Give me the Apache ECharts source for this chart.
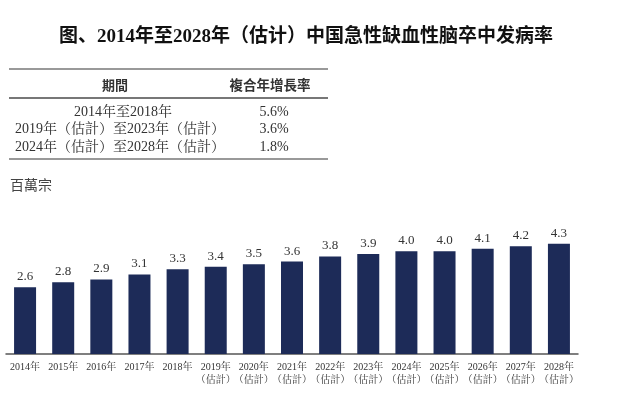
<!DOCTYPE html>
<html><head><meta charset="utf-8">
<script src="https://cdn.jsdelivr.net/npm/echarts@6/dist/echarts.min.js"></script>
<style>html,body{margin:0;padding:0;background:#fff}#c{width:628px;height:395px}</style>
</head><body><div id="c"></div>
<script>
const years = ['2014','2015','2016','2017','2018','2019','2020','2021','2022','2023','2024','2025','2026','2027','2028'];
const estimated = [false,false,false,false,false,true,true,true,true,true,true,true,true,true,true];
const values = [2.6,2.8,2.9,3.1,3.3,3.4,3.5,3.6,3.8,3.9,4.0,4.0,4.1,4.2,4.3];
const tableHeader = ['期間','複合年增長率'];
const periods = ['2014年至2018年','2019年（估計）至2023年（估計）','2024年（估計）至2028年（估計）'];
const cagr = ['5.6%','3.6%','1.8%'];
const titleText = '图、2014年至2028年（估计）中国急性缺血性脑卒中发病率';
const unitText = '百萬宗';

const serif = "'Liberation Serif','Noto Serif CJK SC','Noto Sans CJK TC',serif";
const categories = years.map((y,i)=> y + '年' + (estimated[i] ? '\n（估計）' : ''));

const graphics = [];
graphics.push({type:'line', shape:{x1:9,y1:69,x2:328,y2:69}, style:{stroke:'#777',lineWidth:1.5}});
graphics.push({type:'line', shape:{x1:9,y1:98,x2:328,y2:98}, style:{stroke:'#777',lineWidth:2}});
graphics.push({type:'line', shape:{x1:9,y1:159,x2:328,y2:159}, style:{stroke:'#777',lineWidth:1.5}});
graphics.push({type:'text', x:115, y:85, style:{text:tableHeader[0], font:"bold 13px 'Noto Sans CJK TC'", fill:'#333', textAlign:'center', textVerticalAlign:'middle'}});
graphics.push({type:'text', x:270, y:85, style:{text:tableHeader[1], font:"bold 13.5px 'Noto Sans CJK TC'", fill:'#333', textAlign:'center', textVerticalAlign:'middle'}});
const rowY = [112,129,147];
periods.forEach((p,i)=>{
  graphics.push({type:'text', x:i===0?123:120, y:rowY[i], style:{text:p, font:"14px "+serif, fill:'#333', textAlign:'center', textVerticalAlign:'middle'}});
  graphics.push({type:'text', x:274, y:rowY[i], style:{text:cagr[i], font:"14px "+serif, fill:'#333', textAlign:'center', textVerticalAlign:'middle'}});
});
graphics.push({type:'text', x:10, y:185, style:{text:unitText, font:"14px 'Noto Sans CJK TC'", fill:'#444', textAlign:'left', textVerticalAlign:'middle'}});

const chart = echarts.init(document.getElementById('c'));
chart.setOption({
  animation:false,
  backgroundColor:'#fff',
  title:{text:titleText, left:301, top:23, textAlign:'center',
    textStyle:{fontFamily:"'Liberation Serif','Noto Sans CJK SC'", fontWeight:'bold', fontSize:19, color:'#111'}},
  grid:{left:6, right:50, top:200, bottom:41},
  xAxis:{type:'category', data:categories,
    axisLine:{lineStyle:{color:'#555', width:1.5}},
    axisTick:{show:false},
    axisLabel:{interval:0, margin:7, fontSize:10, lineHeight:13, color:'#333', fontFamily:serif}},
  yAxis:{type:'value', min:0, max:6, show:false, splitLine:{show:false}},
  series:[{type:'bar', data:values, barWidth:22,
    itemStyle:{color:'#1d2b58'},
    label:{show:true, position:'top', distance:4, formatter:p=>p.value.toFixed(1), fontSize:13, color:'#333', fontFamily:serif}}],
  graphic:graphics
});
</script></body></html>
